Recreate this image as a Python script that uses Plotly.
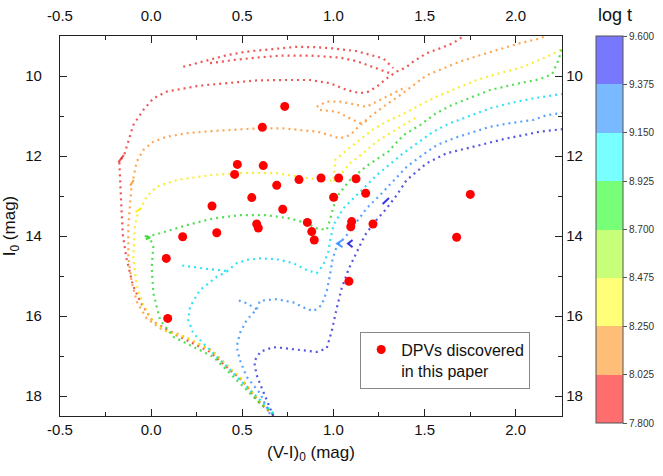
import plotly.graph_objects as go

FONT = "Liberation Sans, Arial, Helvetica, sans-serif"

# ---------------- DPV stars ----------------
dpv_vi = [0.733, 0.610, 0.473, 0.458, 0.615, 0.811, 0.932, 1.029, 1.124, 0.689,
          0.552, 1.001, 1.177, 0.334, 0.722, 0.579, 0.588, 0.360, 0.173, 0.857,
          0.881, 0.895, 1.100, 1.095, 1.217, 0.083, 0.091, 1.085, 1.751, 1.676]
dpv_i = [10.76, 11.28, 12.21, 12.46, 12.24, 12.59, 12.55, 12.55, 12.57, 12.73,
         13.04, 13.03, 12.93, 13.25, 13.33, 13.70, 13.80, 13.92, 14.02, 13.66,
         13.89, 14.10, 13.64, 13.77, 13.70, 14.56, 16.06, 15.13, 12.96, 14.03]

# ---------------- isochrones (None separates branches) ----------------
red_x = [0.67, 0.60, 0.50, 0.32, 0.14, 0.01, -0.06, -0.10, -0.135, -0.155, -0.163, -0.168, -0.172, -0.175,
         -0.149, -0.125, -0.098, -0.043, 0.012, 0.085, 0.176, 0.268, 0.414, 0.579, 0.743, 0.871, 0.981,
         1.073, 1.146, 1.191, 1.237, 1.292, 1.347, 1.40, 1.438, 1.512, 1.584, 1.657, 1.694, 1.72, None,
         0.176, 0.25, 0.341, 0.414, 0.524, 0.652, 0.798, 0.9, 1.0, 1.128, 1.182, 1.273, 1.328, None,
         0.323, 0.451, 0.579, 0.707, 0.871, 1.036, 1.128, 1.237, 1.31]
red_y = [18.48, 18.2, 17.62, 16.89, 16.48, 16.14, 15.64, 15.23, 14.56, 13.98, 13.3, 12.7, 12.3, 12.13,
         11.99, 11.64, 11.23, 10.85, 10.56, 10.39, 10.31, 10.24, 10.18, 10.11, 10.1, 10.1, 10.18,
         10.35, 10.43, 10.39, 10.27, 10.06, 9.89, 9.78, 9.64, 9.43, 9.31, 9.18, 9.06, 9.0, None,
         9.77, 9.68, 9.56, 9.48, 9.39, 9.33, 9.27, 9.28, 9.31, 9.38, 9.45, 9.56, 9.8, None,
         9.68, 9.6, 9.54, 9.49, 9.49, 9.54, 9.63, 9.81, 9.93]

orange_x = [0.67, 0.6, 0.5, 0.33, 0.15, 0.067, -0.025, -0.079, -0.107, -0.125, -0.125, -0.116, -0.107, None,
            -0.098, -0.079, -0.043, 0.012, 0.085, 0.195, 0.323, 0.451, 0.579, 0.725, 0.908, 0.981, 1.036,
            1.091, 1.146, 1.2, 1.273, 1.36, 1.438, 1.512, 1.603, 1.694, 1.804, 1.932, 2.023, 2.115, 2.17, None,
            0.908, 0.963, 1.036, 1.109, 1.182, 1.255, 1.328, 1.40, None,
            0.926, 1.018, 1.091, 1.146, 1.2]
orange_y = [18.46, 18.18, 17.6, 16.85, 16.45, 16.36, 16.06, 15.64, 15.14, 14.56, 13.73, 13.14, 12.72, None,
            12.56, 12.14, 11.85, 11.64, 11.52, 11.43, 11.38, 11.34, 11.31, 11.31, 11.39, 11.48, 11.56,
            11.48, 11.23, 11.02, 10.77, 10.5, 10.23, 9.98, 9.81, 9.64, 9.48, 9.31, 9.18, 9.08, 9.0, None,
            10.77, 10.64, 10.64, 10.7, 10.77, 10.6, 10.43, 10.27, None,
            10.85, 10.89, 11.06, 11.18, 11.1]

yellow_x = [0.67, 0.6, 0.5, 0.34, 0.2, 0.085, 0.012, -0.043, -0.079, -0.098, -0.089, -0.07, None,
            -0.061, -0.025, 0.03, 0.14, 0.323, 0.506, 0.689, 0.871, 1.0, 1.01, 1.073, 1.146, 1.219,
            1.292, 1.383, 1.493, 1.584, 1.676, 1.786, 1.914, 2.041, 2.17, 2.254, None,
            1.0, 1.036, 1.091, 1.164, 1.237, 1.31, 1.383, 1.45]
yellow_y = [18.46, 18.17, 17.6, 16.9, 16.55, 16.39, 16.14, 15.73, 15.23, 14.56, 13.73, 13.38, None,
            13.35, 13.02, 12.77, 12.6, 12.48, 12.42, 12.43, 12.56, 12.62, 12.1, 11.85, 11.6, 11.33,
            11.14, 10.95, 10.68, 10.48, 10.31, 10.1, 9.93, 9.77, 9.52, 9.33, None,
            12.62, 12.48, 12.18, 11.93, 11.64, 11.43, 11.23, 11.05]

green_x = [0.67, 0.597, 0.524, 0.433, 0.341, 0.231, 0.122, 0.049, 0.012, 0.003, 0.012, -0.006, None,
           -0.025, 0.049, 0.195, 0.341, 0.487, 0.634, 0.762, 0.853, 0.908, 0.963, 0.981, 1.0, 1.03,
           1.091, 1.182, 1.301, 1.383, 1.475, 1.557, 1.639, 1.731, 1.859, 2.023, 2.133, 2.2, 2.235, 2.254]
green_y = [18.45, 18.18, 17.85, 17.43, 17.02, 16.77, 16.52, 16.1, 15.43, 14.77, 14.27, 14.06, None,
           14.02, 13.93, 13.73, 13.56, 13.48, 13.48, 13.56, 13.68, 13.81, 13.85, 13.6, 13.27, 12.95,
           12.6, 12.25, 11.89, 11.48, 11.23, 10.95, 10.75, 10.58, 10.35, 10.18, 10.08, 9.95, 9.6, 9.3]

cyan_x = [0.67, 0.597, 0.524, 0.45, 0.378, 0.305, 0.231, 0.204, 0.213, 0.268, 0.36, 0.414, None,
          0.41, 0.3, 0.16, None,
          0.414, 0.469, 0.524, 0.597, 0.689, 0.78, 0.853, 0.908, 0.944, 0.972, 0.981, 1.0, 1.054,
          1.146, 1.237, 1.383, 1.457, 1.548, 1.639, 1.749, 1.859, 1.968, 2.096, 2.206, 2.254]
cyan_y = [18.43, 18.1, 17.77, 17.43, 17.1, 16.77, 16.43, 16.1, 15.77, 15.35, 15.02, 14.89, None,
          14.87, 14.82, 14.73, None,
          14.89, 14.68, 14.6, 14.56, 14.58, 14.68, 14.85, 14.93, 14.73, 14.39, 14.14, 13.73, 13.31,
          12.89, 12.48, 11.93, 11.68, 11.39, 11.18, 11.0, 10.81, 10.68, 10.56, 10.48, 10.45]

azure_x = [0.652, 0.597, 0.524, 0.487, 0.469, 0.487, 0.524, 0.579, None,
           0.579, 0.524, 0.46, None,
           0.579, 0.597, 0.689, 0.78, 0.853, 0.89, 0.935, 0.963, 0.981, 0.996, 1.018, 1.073, 1.128,
           1.182, 1.255, 1.328, 1.402, 1.475, 1.566, 1.657, 1.749, 1.859, 1.968, 2.096, 2.17, 2.254]
azure_y = [18.45, 17.93, 17.52, 17.1, 16.77, 16.43, 16.1, 15.83, None,
           15.83, 15.68, 15.58, None,
           15.83, 15.62, 15.58, 15.66, 15.82, 15.88, 15.73, 15.39, 14.98, 14.56, 14.27, 13.98, 13.64,
           13.31, 12.98, 12.64, 12.27, 12.02, 11.73, 11.56, 11.43, 11.27, 11.18, 11.1, 10.98, 10.92]

blue_x = [0.67, 0.652, 0.615, 0.579, 0.565, 0.6, 0.67, 0.725, 0.817, 0.908, 0.963, 0.99, 1.018, 1.045,
          1.085, 1.128, 1.173, 1.228, 1.292, 1.347, 1.402, 1.512, 1.621, 1.731, 1.841, 1.95, 2.041,
          2.133, 2.254]
blue_y = [18.5, 18.31, 17.89, 17.48, 17.14, 16.89, 16.78, 16.8, 16.85, 16.9, 16.81, 16.39, 15.81, 15.31,
          14.81, 14.39, 13.98, 13.64, 13.31, 12.98, 12.6, 12.18, 11.93, 11.81, 11.68, 11.56, 11.48,
          11.39, 11.33]

# dense clumps (hooks / red clump)
clump_x = {"red": [-0.18, -0.15], "orange": [-0.115, -0.095], "yellow": [-0.085, -0.055],
           "green": [-0.035, -0.005, -0.03], "azure": [1.05, 1.02, 1.05], "blue": [1.105, 1.08, 1.105, None, 1.27, 1.305]}
clump_y = {"red": [12.16, 11.98], "orange": [12.74, 12.6], "yellow": [13.4, 13.3],
           "green": [14.0, 14.04, 14.08], "azure": [14.1, 14.19, 14.28], "blue": [14.1, 14.19, 14.28, None, 13.2, 13.05]}

iso_colors = {"red": "rgb(236,45,45)", "orange": "rgb(255,145,40)", "yellow": "rgb(250,235,0)",
              "green": "rgb(40,215,40)", "cyan": "rgb(0,220,245)", "azure": "rgb(50,140,255)",
              "blue": "rgb(45,45,225)"}
iso_data = [("red", red_x, red_y), ("orange", orange_x, orange_y), ("yellow", yellow_x, yellow_y),
            ("green", green_x, green_y), ("cyan", cyan_x, cyan_y), ("azure", azure_x, azure_y),
            ("blue", blue_x, blue_y)]

# colour bar
logt_ticks = [7.800, 8.025, 8.250, 8.475, 8.700, 8.925, 9.150, 9.375, 9.600]
band_colors = ["rgb(255,110,110)", "rgb(255,190,120)", "rgb(255,255,120)", "rgb(200,255,120)",
               "rgb(120,255,120)", "rgb(120,255,255)", "rgb(120,185,255)", "rgb(120,120,255)"]

x_ticks = [-0.5, 0.0, 0.5, 1.0, 1.5, 2.0]
x_minor = [-0.25, 0.25, 0.75, 1.25, 1.75]
y_ticks = [10, 12, 14, 16, 18]
y_minor = [11, 13, 15, 17]
x_range = [-0.5, 2.254]
y_range = [18.5, 9.0]

fig = go.Figure()

for name, xs, ys in iso_data:
    fig.add_trace(go.Scatter(x=xs, y=ys, mode="lines", showlegend=False, hoverinfo="skip",
                             opacity=0.8,
                             line=dict(color=iso_colors[name], width=2.2, dash="2px,4px")))
for name in clump_x:
    fig.add_trace(go.Scatter(x=clump_x[name], y=clump_y[name], mode="lines", showlegend=False,
                             hoverinfo="skip", opacity=0.85,
                             line=dict(color=iso_colors[name] if name != "blue" else "rgb(20,20,230)", width=2)))

fig.add_trace(go.Scatter(x=dpv_vi, y=dpv_i, mode="markers", name="DPVs discovered<br>in this paper",
                         marker=dict(color="#ff0000", size=9, line=dict(width=0))))

# colour bar carrier
cs = []
n = len(band_colors)
for i, c in enumerate(band_colors):
    cs.append([i / n, c])
    cs.append([(i + 1) / n, c])
fig.add_trace(go.Scatter(x=[None], y=[None], mode="markers", showlegend=False, hoverinfo="skip",
                         marker=dict(color=[logt_ticks[0]], colorscale=cs, cmin=logt_ticks[0], cmax=logt_ticks[-1],
                                     showscale=True,
                                     colorbar=dict(x=1.068, xanchor="left", xpad=0, ypad=0,
                                                   y=1.0, yanchor="top", len=387, lenmode="pixels",
                                                   thickness=27, thicknessmode="pixels",
                                                   outlinewidth=1, outlinecolor="#555",
                                                   tickvals=logt_ticks, ticktext=["%.3f" % v for v in logt_ticks],
                                                   ticks="outside", ticklen=4, tickcolor="#555",
                                                   tickfont=dict(family=FONT, size=10, color="#333")))))

# dummy for secondary axes
fig.add_trace(go.Scatter(x=[None], y=[None], xaxis="x2", yaxis="y2", showlegend=False, hoverinfo="skip"))

axis_common = dict(showline=True, linecolor="#222", linewidth=1.3, showgrid=False, zeroline=False,
                   ticks="inside", ticklen=7, tickwidth=1.2, tickcolor="#222", automargin=False,
                   tickfont=dict(family=FONT, size=15, color="#111"))

fig.update_layout(
    width=663, height=476,
    margin=dict(l=60, r=101, t=36, b=60, autoexpand=False),
    paper_bgcolor="white", plot_bgcolor="white",
    font=dict(family=FONT, color="#111"),
    xaxis=dict(range=x_range, tickvals=x_ticks, ticktext=["%.1f" % v for v in x_ticks],
               minor=dict(tickvals=x_minor, ticks="inside", ticklen=4, tickcolor="#222"),
               title=dict(text="(V-I)<sub>0</sub> (mag)", font=dict(family=FONT, size=17), standoff=8),
               **axis_common),
    yaxis=dict(range=y_range, tickvals=y_ticks, ticktext=[str(v) for v in y_ticks],
               minor=dict(tickvals=y_minor, ticks="inside", ticklen=4, tickcolor="#222"),
               ticklabelstandoff=14,
               title=dict(text="I<sub>0</sub> (mag)", font=dict(family=FONT, size=17), standoff=6),
               **axis_common),
    xaxis2=dict(range=x_range, overlaying="x", side="top", anchor="y",
                tickvals=x_ticks, ticktext=["%.1f" % v for v in x_ticks],
                minor=dict(tickvals=x_minor, ticks="inside", ticklen=4, tickcolor="#222"),
                ticklabelstandoff=8, **axis_common),
    yaxis2=dict(range=y_range, overlaying="y", side="right", anchor="x",
                tickvals=y_ticks, ticktext=[str(v) for v in y_ticks],
                minor=dict(tickvals=y_minor, ticks="inside", ticklen=4, tickcolor="#222"),
                **axis_common),
    legend=dict(x=0.598, y=0.222, xanchor="left", yanchor="top", bgcolor="white",
                bordercolor="#888", borderwidth=1, valign="top",
                font=dict(family=FONT, size=16, color="#111")),
    annotations=[dict(text="log t", xref="paper", yref="paper", x=1.1056, y=1.055,
                      xanchor="center", yanchor="middle", showarrow=False,
                      font=dict(family=FONT, size=18, color="#111"))],
)

fig.write_html("out.html")
